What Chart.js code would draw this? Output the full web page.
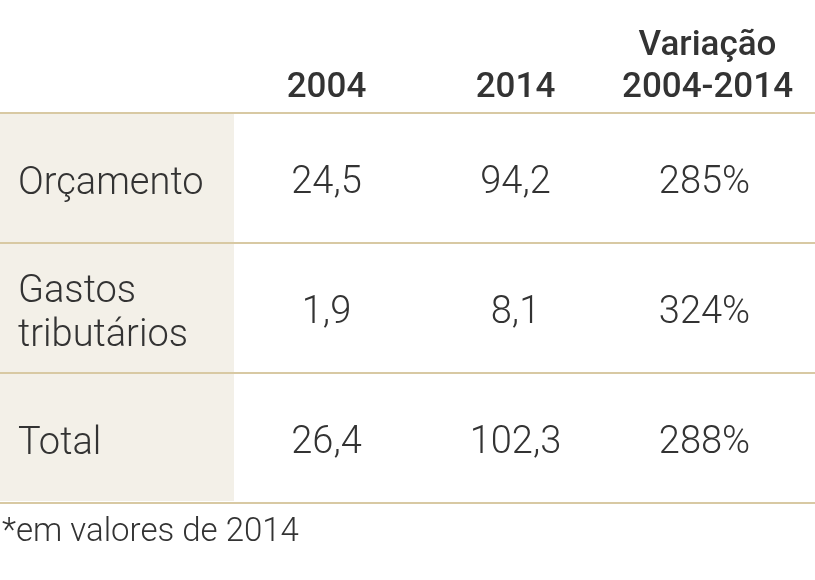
<!DOCTYPE html>
<html>
<head>
<meta charset="utf-8">
<script src="https://cdn.jsdelivr.net/npm/chart.js@4.4.1/dist/chart.umd.min.js"></script>
<style>
  body { margin: 0; background: #fff; }
  #tabela { display: block; }
</style>
</head>
<body>
<canvas id="tabela" width="815" height="580"></canvas>
<script>
// Dados da tabela (bilhões, em valores de 2014)
const colunas = ['2004', '2014', 'Variação\n2004-2014'];
const linhas = ['Orçamento', 'Gastos\ntributários', 'Total'];
const valores2004 = [24.5, 1.9, 26.4];
const valores2014 = [94.2, 8.1, 102.3];
const variacao = [285, 324, 288];
const nota = '*em valores de 2014';

const FONTE = 'Roboto, "DejaVu Sans Condensed", sans-serif';
const COR_TEXTO = '#333333';
const COR_LINHA = '#d8c9a3';
const COR_FUNDO = '#f3f0e8';

function fmt(v) {
    return v.toFixed(1).replace('.', ',');
}

// Cada célula vira um ponto (coluna, linha); o plugin escreve o texto na posição calculada pelas escalas
const celulas = [];
linhas.forEach((linha, i) => {
    celulas.push({ x: colunas[0], y: linha, texto: fmt(valores2004[i]) });
    celulas.push({ x: colunas[1], y: linha, texto: fmt(valores2014[i]) });
    celulas.push({ x: colunas[2], y: linha, texto: variacao[i] + '%' });
});

const pluginTabela = {
    id: 'tabela',
    beforeDatasetsDraw(chart) {
        const ctx = chart.ctx;
        const area = chart.chartArea;
        const yScale = chart.scales.y;
        const xScale = chart.scales.x;
        ctx.save();

        // Fundo da coluna de rótulos
        ctx.fillStyle = COR_FUNDO;
        ctx.fillRect(0, area.top + 2, area.left + 2, area.bottom - area.top - 3);

        // Linhas horizontais
        ctx.strokeStyle = COR_LINHA;
        ctx.lineWidth = 2;
        for (let i = 0; i <= linhas.length; i++) {
            const y = Math.round(yScale.getPixelForValue(i - 0.5)) + 1;
            ctx.beginPath();
            ctx.moveTo(0, y);
            ctx.lineTo(chart.width, y);
            ctx.stroke();
        }

        // Cabeçalho
        ctx.fillStyle = COR_TEXTO;
        ctx.font = '500 35px ' + FONTE;
        ctx.textAlign = 'center';
        ctx.textBaseline = 'alphabetic';
        colunas.forEach((c, j) => {
            const x = xScale.getPixelForValue(j) + (j === 2 ? 3 : 0);
            const partes = c.split('\n');
            partes.forEach((p, k) => {
                ctx.fillText(p, x, area.top - 15 - (partes.length - 1 - k) * 42);
            });
        });

        // Rótulos das linhas
        ctx.font = '300 38px ' + FONTE;
        ctx.textAlign = 'left';
        ctx.textBaseline = 'alphabetic';
        linhas.forEach((l, i) => {
            const y = yScale.getPixelForValue(i) + 17;
            const partes = l.split('\n');
            partes.forEach((p, k) => {
                ctx.fillText(p, 18, y + (k - (partes.length - 1) / 2) * 44);
            });
        });

        // Nota
        ctx.font = '300 33px ' + FONTE;
        ctx.fillText(nota, 2, area.bottom + 39);
        ctx.restore();
    },
    afterDatasetsDraw(chart) {
        const ctx = chart.ctx;
        const meta = chart.getDatasetMeta(0);
        ctx.save();
        ctx.fillStyle = COR_TEXTO;
        ctx.font = '300 38px ' + FONTE;
        ctx.textAlign = 'center';
        ctx.textBaseline = 'alphabetic';
        meta.data.forEach((ponto, i) => {
            ctx.fillText(celulas[i].texto, ponto.x, ponto.y + 16);
        });
        ctx.restore();
    }
};

new Chart(document.getElementById('tabela'), {
    type: 'scatter',
    data: {
        datasets: [{
            data: celulas,
            pointRadius: 0,
            pointHoverRadius: 0
        }]
    },
    options: {
        responsive: false,
        animation: false,
        events: [],
        layout: {
            padding: { left: 232, right: 16, top: 112, bottom: 78 }
        },
        plugins: {
            legend: { display: false },
            tooltip: { enabled: false }
        },
        scales: {
            x: { type: 'category', labels: colunas, offset: true, display: false },
            y: { type: 'category', labels: linhas, offset: true, display: false }
        }
    },
    plugins: [pluginTabela]
});
</script>
</body>
</html>
